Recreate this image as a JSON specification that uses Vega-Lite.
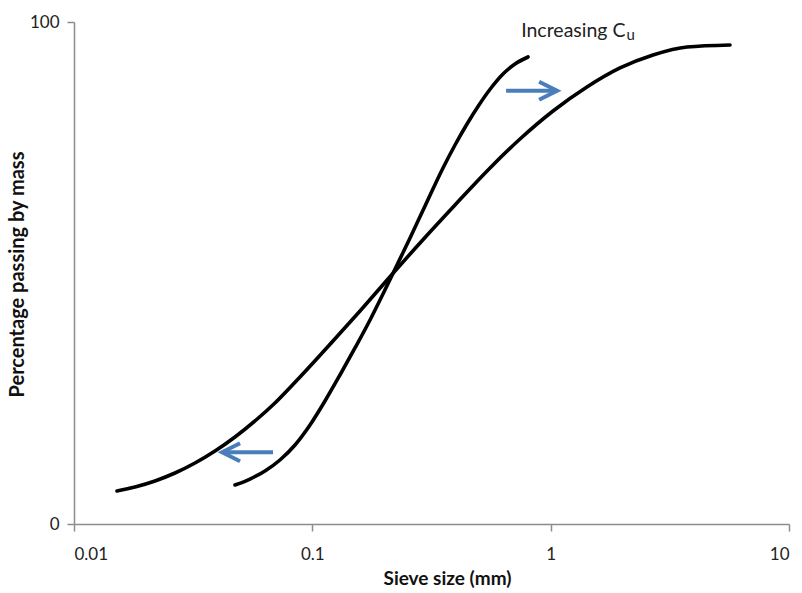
{
  "$schema": "https://vega.github.io/schema/vega-lite/v6.json",
  "width": 715,
  "height": 502,
  "autosize": "none",
  "padding": {"left": 74, "top": 22, "right": 13, "bottom": 69},
  "background": "white",
  "config": {
    "view": {"stroke": null},
    "font": "Lato",
    "axis": {"labelFont": "Lato", "titleFont": "Lato", "labelColor": "#222", "titleColor": "#111"}
  },
  "datasets": {
    "curves": [
      {"curve": "wide", "size": 0.01515, "pct": 6.57},
      {"curve": "wide", "size": 0.01803, "pct": 7.37},
      {"curve": "wide", "size": 0.02187, "pct": 8.57},
      {"curve": "wide", "size": 0.02653, "pct": 10.16},
      {"curve": "wide", "size": 0.03219, "pct": 12.15},
      {"curve": "wide", "size": 0.03905, "pct": 14.54},
      {"curve": "wide", "size": 0.04737, "pct": 17.33},
      {"curve": "wide", "size": 0.05745, "pct": 20.52},
      {"curve": "wide", "size": 0.06970, "pct": 24.10},
      {"curve": "wide", "size": 0.08877, "pct": 29.28},
      {"curve": "wide", "size": 0.1221, "pct": 36.45},
      {"curve": "wide", "size": 0.1585, "pct": 42.43},
      {"curve": "wide", "size": 0.2077, "pct": 48.80},
      {"curve": "wide", "size": 0.2830, "pct": 55.98},
      {"curve": "wide", "size": 0.3969, "pct": 63.55},
      {"curve": "wide", "size": 0.5566, "pct": 70.92},
      {"curve": "wide", "size": 0.7436, "pct": 76.69},
      {"curve": "wide", "size": 1.023, "pct": 82.27},
      {"curve": "wide", "size": 1.420, "pct": 87.05},
      {"curve": "wide", "size": 1.954, "pct": 90.84},
      {"curve": "wide", "size": 2.688, "pct": 93.43},
      {"curve": "wide", "size": 3.734, "pct": 95.02},
      {"curve": "wide", "size": 5.655, "pct": 95.42},
      {"curve": "steep", "size": 0.04737, "pct": 7.77},
      {"curve": "steep", "size": 0.05477, "pct": 8.96},
      {"curve": "steep", "size": 0.06329, "pct": 10.56},
      {"curve": "steep", "size": 0.07314, "pct": 12.75},
      {"curve": "steep", "size": 0.08459, "pct": 15.74},
      {"curve": "steep", "size": 0.09777, "pct": 19.72},
      {"curve": "steep", "size": 0.1130, "pct": 24.50},
      {"curve": "steep", "size": 0.1306, "pct": 29.68},
      {"curve": "steep", "size": 0.1510, "pct": 35.06},
      {"curve": "steep", "size": 0.1746, "pct": 40.64},
      {"curve": "steep", "size": 0.1979, "pct": 45.82},
      {"curve": "steep", "size": 0.2266, "pct": 51.59},
      {"curve": "steep", "size": 0.2570, "pct": 56.97},
      {"curve": "steep", "size": 0.2971, "pct": 63.35},
      {"curve": "steep", "size": 0.3534, "pct": 70.92},
      {"curve": "steep", "size": 0.3969, "pct": 75.50},
      {"curve": "steep", "size": 0.4457, "pct": 79.68},
      {"curve": "steep", "size": 0.5003, "pct": 83.47},
      {"curve": "steep", "size": 0.5620, "pct": 86.85},
      {"curve": "steep", "size": 0.6310, "pct": 89.64},
      {"curve": "steep", "size": 0.7085, "pct": 91.63},
      {"curve": "steep", "size": 0.8033, "pct": 93.03}
    ],
    "arrows": [
      {"dir": "right", "from": 0.650, "to": 1.064, "pct": 86.3},
      {"dir": "left", "from": 0.0684, "to": 0.0418, "pct": 14.3}
    ],
    "notes": [
      {"part": "main", "size": 0.752, "pct": 97.0, "text": "Increasing C"},
      {"part": "sub", "size": 2.08, "pct": 96.5, "text": "u"}
    ]
  },
  "encoding": {
    "x": {"field": "size", "type": "quantitative"},
    "y": {"field": "pct", "type": "quantitative"}
  },
  "layer": [
    {
      "data": {"name": "curves"},
      "mark": {"type": "line", "color": "black", "strokeWidth": 3.6, "interpolate": "monotone", "strokeCap": "round"},
      "encoding": {
        "x": {
          "field": "size", "type": "quantitative",
          "scale": {"type": "log", "domain": [0.01, 10], "nice": false},
          "axis": {
            "values": [0.01, 0.1, 1, 10],
            "labelExpr": "'' + datum.value",
            "grid": false,
            "domainColor": "#8c8c8c", "domainWidth": 1.5,
            "tickColor": "#8c8c8c", "tickWidth": 1.5, "tickSize": 7,
            "labelFontSize": 17, "labelPadding": 15,
            "title": "Sieve size (mm)",
            "titleFontSize": 19, "titleFontWeight": "bold",
            "titleX": 373, "titleY": 60, "titleBaseline": "alphabetic", "titleAlign": "center"
          }
        },
        "y": {
          "field": "pct", "type": "quantitative",
          "scale": {"domain": [0, 100], "nice": false},
          "axis": {
            "values": [0, 100],
            "grid": false,
            "domainColor": "#8c8c8c", "domainWidth": 1.5,
            "tickColor": "#8c8c8c", "tickWidth": 1.5, "tickSize": 7,
            "labelFontSize": 17, "labelPadding": 8,
            "title": "Percentage passing by mass",
            "titleFontSize": 20, "titleFontWeight": "bold",
            "titleX": -57, "titleY": 252, "titleAngle": 270, "titleBaseline": "middle", "titleAlign": "center"
          }
        },
        "detail": {"field": "curve", "type": "nominal"}
      }
    },
    {
      "data": {"name": "arrows"},
      "mark": {"type": "rule", "color": "#4a7ebb", "strokeWidth": 4},
      "encoding": {
        "x": {"field": "from", "type": "quantitative"},
        "x2": {"field": "to"},
        "y": {"field": "pct", "type": "quantitative"}
      }
    },
    {
      "data": {"name": "arrows"},
      "transform": [{"filter": "datum.dir == 'right'"}],
      "mark": {"type": "point", "shape": "M-2,-1L0,0L-2,1", "size": 324, "filled": false, "stroke": "#4a7ebb", "strokeWidth": 4, "opacity": 1, "strokeJoin": "miter"},
      "encoding": {
        "x": {"field": "to", "type": "quantitative"},
        "y": {"field": "pct", "type": "quantitative"}
      }
    },
    {
      "data": {"name": "arrows"},
      "transform": [{"filter": "datum.dir == 'left'"}],
      "mark": {"type": "point", "shape": "M2,-1L0,0L2,1", "size": 324, "filled": false, "stroke": "#4a7ebb", "strokeWidth": 4, "opacity": 1, "strokeJoin": "miter"},
      "encoding": {
        "x": {"field": "to", "type": "quantitative"},
        "y": {"field": "pct", "type": "quantitative"}
      }
    },
    {
      "data": {"name": "notes"},
      "transform": [{"filter": "datum.part == 'main'"}],
      "mark": {"type": "text", "align": "left", "baseline": "alphabetic", "fontSize": 19.5, "color": "#222"},
      "encoding": {
        "x": {"field": "size", "type": "quantitative"},
        "y": {"field": "pct", "type": "quantitative"},
        "text": {"field": "text"}
      }
    },
    {
      "data": {"name": "notes"},
      "transform": [{"filter": "datum.part == 'sub'"}],
      "mark": {"type": "text", "align": "left", "baseline": "alphabetic", "fontSize": 15, "color": "#222"},
      "encoding": {
        "x": {"field": "size", "type": "quantitative"},
        "y": {"field": "pct", "type": "quantitative"},
        "text": {"field": "text"}
      }
    }
  ]
}
